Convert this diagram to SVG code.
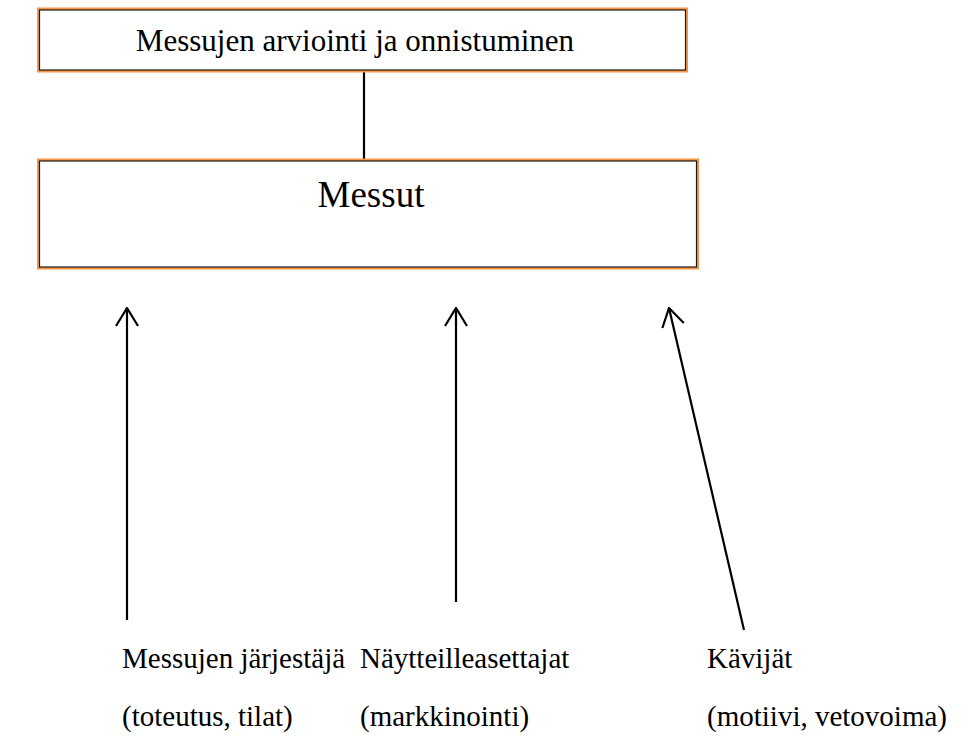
<svg xmlns="http://www.w3.org/2000/svg" width="978" height="738" viewBox="0 0 978 738">
<defs>
<style>
.box-o{fill:none;stroke:#f79646;stroke-width:3}
.box-i{fill:#fff;stroke:#1a1a1a;stroke-width:1.2}
.t{font-family:'Liberation Serif','Times New Roman',serif;fill:#000}
.h{font-size:31px}
.s{font-size:29px}
.b{font-size:37px}
.ln{stroke:#000;stroke-width:2.2;fill:none}
</style>
<marker id="ah" viewBox="0 0 20 24" refX="19" refY="12" markerWidth="20" markerHeight="24" markerUnits="userSpaceOnUse" orient="auto">
<path d="M1,1 L19,12 L1,23" fill="none" stroke="#000" stroke-width="2.2"/>
</marker>
</defs>
<rect width="978" height="738" fill="#fff"/>
<g id="connectors">
<line class="ln" x1="364" y1="71" x2="364" y2="161"/>
<line class="ln" x1="127" y1="620" x2="127" y2="308" marker-end="url(#ah)"/>
<line class="ln" x1="456" y1="602" x2="456" y2="308" marker-end="url(#ah)"/>
<line class="ln" x1="744" y1="630" x2="669" y2="308" marker-end="url(#ah)"/>
</g>
<g id="node-arviointi">
<rect class="box-o" x="38.5" y="9" width="648" height="62"/>
<rect class="box-i" x="39.5" y="10" width="646" height="60"/>
<text class="t h" x="355" y="51" text-anchor="middle">Messujen arviointi ja onnistuminen</text>
</g>
<g id="node-messut">
<rect class="box-o" x="38.5" y="160" width="659" height="108"/>
<rect class="box-i" x="39.5" y="161" width="657" height="106"/>
<text class="t b" x="371" y="207" text-anchor="middle">Messut</text>
</g>
<g id="node-jarjestaja">
<text class="t s" x="122" y="668">Messujen järjestäjä</text>
<text class="t s" x="122" y="726">(toteutus, tilat)</text>
</g>
<g id="node-naytteilleasettajat">
<text class="t s" x="360" y="668">Näytteilleasettajat</text>
<text class="t s" x="360" y="726">(markkinointi)</text>
</g>
<g id="node-kavijat">
<text class="t s" x="707" y="668">Kävijät</text>
<text class="t s" x="707" y="726">(motiivi, vetovoima)</text>
</g>
</svg>
